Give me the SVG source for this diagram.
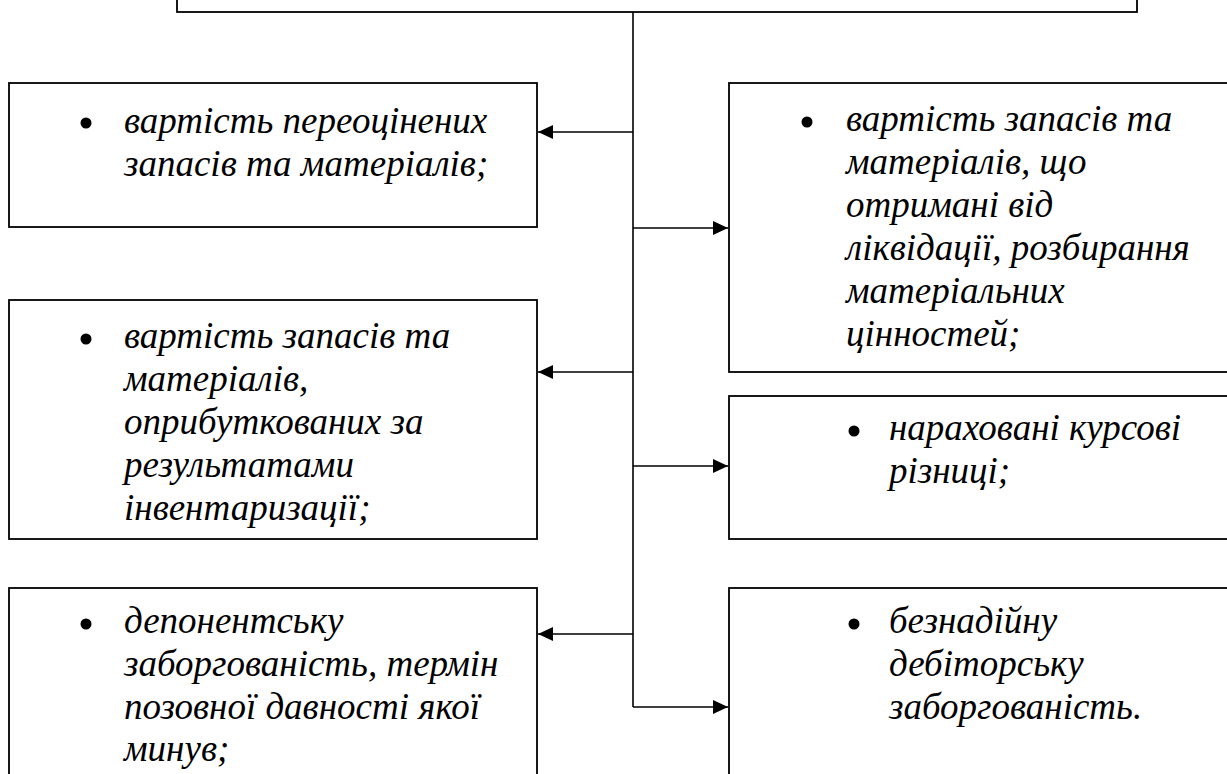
<svg xmlns="http://www.w3.org/2000/svg" width="1227" height="774" viewBox="0 0 1227 774">
<style>
.box{fill:#fff;stroke:#000;stroke-width:1.8}
.conn{stroke:#000;stroke-width:1.6;fill:none}
.t{font-family:"Liberation Serif","Times New Roman",serif;font-style:italic;font-size:37px;fill:#000}
.dot{fill:#000}
</style>
<defs>
<marker id="ah" viewBox="0 0 15 14" refX="15" refY="7" markerWidth="15" markerHeight="14" markerUnits="userSpaceOnUse" orient="auto">
<path d="M0,0 L15,7 L0,14 Z" fill="#000"/>
</marker>
</defs>
<g id="top"><rect class="box" x="177" y="-20" width="960" height="32"/></g>
<g id="connectors">
<line class="conn" x1="633" y1="12" x2="633" y2="707"/>
<line class="conn" x1="633" y1="132" x2="538" y2="132" marker-end="url(#ah)"/>
<line class="conn" x1="633" y1="372" x2="538" y2="372" marker-end="url(#ah)"/>
<line class="conn" x1="633" y1="634" x2="538" y2="634" marker-end="url(#ah)"/>
<line class="conn" x1="633" y1="228" x2="728" y2="228" marker-end="url(#ah)"/>
<line class="conn" x1="633" y1="466" x2="728" y2="466" marker-end="url(#ah)"/>
<line class="conn" x1="633" y1="707" x2="728" y2="707" marker-end="url(#ah)"/>
</g>
<g id="left1">
<rect class="box" x="9" y="83" width="528" height="144"/>
<circle class="dot" cx="86" cy="123" r="5.5"/>
<text class="t" x="124" y="133">вартість переоцінених</text>
<text class="t" x="124" y="176">запасів та матеріалів;</text>
</g>
<g id="left2">
<rect class="box" x="9" y="300" width="528" height="239"/>
<circle class="dot" cx="86" cy="339" r="5.5"/>
<text class="t" x="124" y="348">вартість запасів та</text>
<text class="t" x="124" y="391">матеріалів,</text>
<text class="t" x="124" y="434">оприбуткованих за</text>
<text class="t" x="124" y="477">результатами</text>
<text class="t" x="124" y="520">інвентаризації;</text>
</g>
<g id="left3">
<rect class="box" x="9" y="588" width="528" height="200"/>
<circle class="dot" cx="86" cy="624" r="5.5"/>
<text class="t" x="124" y="633">депонентську</text>
<text class="t" x="124" y="676">заборгованість, термін</text>
<text class="t" x="124" y="719">позовної давності якої</text>
<text class="t" x="124" y="761">минув;</text>
</g>
<g id="right1">
<rect class="box" x="729" y="83" width="510" height="289"/>
<circle class="dot" cx="807" cy="122" r="5.5"/>
<text class="t" x="846" y="131">вартість запасів та</text>
<text class="t" x="846" y="174">матеріалів, що</text>
<text class="t" x="846" y="217">отримані від</text>
<text class="t" x="846" y="260">ліквідації, розбирання</text>
<text class="t" x="846" y="303">матеріальних</text>
<text class="t" x="846" y="346">цінностей;</text>
</g>
<g id="right2">
<rect class="box" x="729" y="396" width="510" height="143"/>
<circle class="dot" cx="854" cy="431" r="5.5"/>
<text class="t" x="889" y="440">нараховані курсові</text>
<text class="t" x="889" y="483">різниці;</text>
</g>
<g id="right3">
<rect class="box" x="729" y="588" width="510" height="200"/>
<circle class="dot" cx="854" cy="624" r="5.5"/>
<text class="t" x="889" y="633">безнадійну</text>
<text class="t" x="889" y="676">дебіторську</text>
<text class="t" x="889" y="719">заборгованість.</text>
</g>
</svg>
